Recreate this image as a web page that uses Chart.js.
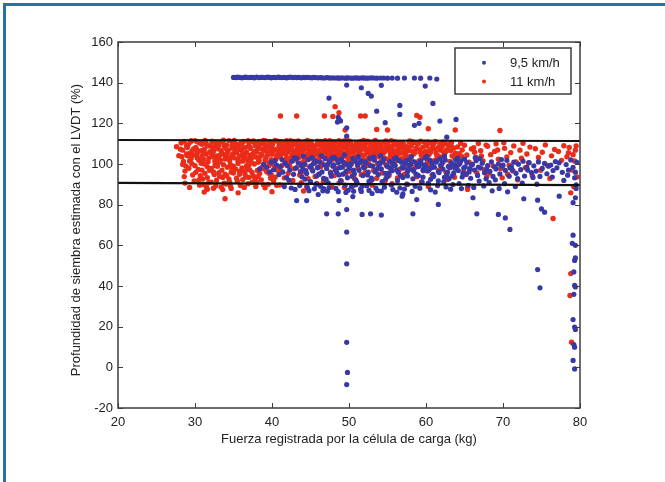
<!DOCTYPE html>
<html>
<head>
<meta charset="utf-8">
<script src="https://cdn.jsdelivr.net/npm/chart.js@4/dist/chart.umd.min.js"></script>
<style>
  html, body { margin: 0; padding: 0; background: #ffffff; }
  #wrap { position: relative; width: 665px; height: 482px; overflow: hidden; background: #fff; }
  #frame { position: absolute; left: 3px; top: 3px; width: 700px; height: 500px;
           border-left: 3px solid #2173a8; border-top: 3px solid #2173a8; box-sizing: border-box; }
  canvas { position: absolute; left: 0; top: 0; }
</style>
</head>
<body>
<div id="wrap">
  <div id="frame"></div>
  <canvas id="c" width="665" height="482"></canvas>
</div>
<script>
// ---------------- data ----------------
const seriesNames = ['9,5 km/h', '11 km/h'];
const xTickValues = [20, 30, 40, 50, 60, 70, 80];
const yTickValues = [-20, 0, 20, 40, 60, 80, 100, 120, 140, 160];
const xTitle = 'Fuerza registrada por la célula de carga (kg)';
const yTitle = 'Profundidad de siembra estimada con el LVDT (%)';

const limitUpper = [[20, 111.8], [80, 111.3]];
const limitLower = [[20, 90.7], [80, 89.6]];

// 9,5 km/h : saturated readings near 142 %
const blueCeiling = [
[35.0,142.6],[35.3,142.5],[35.5,142.7],[35.8,142.6],[36.1,142.4],[36.4,142.6],[36.6,142.7],[36.9,142.5],
[37.2,142.6],[37.5,142.6],[37.7,142.4],[38.0,142.7],[38.3,142.5],[38.6,142.6],[38.8,142.6],[39.1,142.5],
[39.4,142.7],[39.7,142.6],[39.9,142.4],[40.2,142.6],[40.5,142.5],[40.8,142.7],[41.0,142.6],[41.3,142.5],
[41.6,142.6],[41.9,142.4],[42.1,142.6],[42.4,142.7],[42.7,142.5],[43.0,142.6],[43.2,142.5],[43.5,142.6],
[43.8,142.4],[44.1,142.6],[44.3,142.5],[44.6,142.6],[44.9,142.5],[45.2,142.4],[45.4,142.6],[45.7,142.5],
[46.0,142.4],[46.3,142.5],[46.5,142.4],[46.8,142.3],[47.1,142.5],[47.4,142.4],[47.6,142.3],[47.9,142.4],
[48.2,142.3],[48.5,142.4],[48.7,142.2],[49.0,142.4],[49.3,142.3],[49.6,142.2],[49.8,142.4],[50.1,142.3],
[50.4,142.2],[50.7,142.3],[50.9,142.4],[51.2,142.2],[51.5,142.3],[51.8,142.4],[52.0,142.3],[52.3,142.2],
[52.6,142.3],[52.9,142.4],[53.2,142.3],[53.6,142.2],[54.1,142.3],[54.5,142.3],[55.0,142.2],[55.6,142.3],
[56.3,142.2],[57.2,142.3],[58.5,142.3],[59.3,142.2],[60.5,142.3],[61.4,141.8]
];

// 9,5 km/h : main cloud
const blueBand = [
[38.4,97.6],[38.9,99.8],[39.3,98.4],[39.7,96.1],[39.9,100.9],
[40.2,97.2],[40.6,99.5],[40.9,94.8],[40.4,101.7],
[41.1,98.7],[41.4,96.0],[41.7,100.4],[41.9,93.3],[41.3,102.2],[41.6,88.9],
[42.0,99.1],[42.3,97.0],[42.6,101.3],[42.8,94.9],[42.2,92.0],[42.5,88.2],[42.9,103.0],
[43.1,98.0],[43.4,100.6],[43.7,96.3],[43.9,93.7],[43.2,102.8],[43.6,89.4],[43.0,87.5],[43.8,99.3],
[44.0,97.5],[44.2,100.0],[44.5,95.3],[44.7,102.1],[44.9,98.6],[44.3,92.6],[44.6,88.5],[44.8,86.9],[44.1,103.9],[44.4,96.8],
[45.1,99.2],[45.3,96.6],[45.6,101.4],[45.8,94.1],[45.0,91.3],[45.5,87.8],[45.9,98.1],[45.2,103.2],[45.7,89.9],[45.4,100.3],
[46.0,98.4],[46.2,100.9],[46.5,96.1],[46.7,93.0],[46.9,102.6],[46.3,89.0],[46.6,86.8],[46.1,95.0],[46.8,99.5],[46.4,104.0],[46.7,87.9],
[47.1,97.8],[47.3,100.2],[47.6,95.5],[47.8,102.9],[47.0,92.4],[47.4,88.3],[47.9,98.9],[47.2,86.6],[47.7,94.0],[47.5,101.5],[47.3,90.7],
[48.0,99.6],[48.2,97.1],[48.5,101.8],[48.7,94.6],[48.9,91.8],[48.3,88.0],[48.6,86.4],[48.1,103.3],[48.8,98.2],[48.4,96.0],[48.6,100.6],
[49.1,98.5],[49.3,100.8],[49.6,96.4],[49.8,93.2],[49.0,102.4],[49.5,89.6],[49.9,87.1],[49.2,95.0],[49.7,99.7],[49.4,104.5],[49.6,86.0],
[50.0,97.9],[50.2,100.1],[50.5,102.7],[50.7,95.2],[50.9,92.1],[50.3,88.7],[50.6,86.6],[50.1,99.0],[50.8,101.3],[50.4,94.0],[50.6,97.0],[50.9,89.8],
[51.1,99.4],[51.3,96.9],[51.6,101.6],[51.8,94.3],[51.0,91.0],[51.5,87.6],[51.9,98.3],[51.2,103.6],[51.7,89.0],[51.4,100.7],[51.6,86.5],
[52.0,98.1],[52.2,100.5],[52.5,96.0],[52.7,102.8],[52.9,93.1],[52.3,89.3],[52.6,87.0],[52.1,101.0],[52.8,99.2],[52.4,94.6],[52.6,91.5],
[53.1,99.0],[53.3,101.9],[53.6,97.3],[53.8,94.8],[53.0,92.2],[53.5,88.1],[53.9,100.4],[53.2,103.4],[53.7,86.9],[53.4,96.1],[53.8,98.0],
[54.0,100.0],[54.2,97.6],[54.5,102.3],[54.7,95.4],[54.9,99.0],[54.3,91.4],[54.6,88.6],[54.1,104.1],[54.8,93.0],[54.4,101.0],[54.2,86.7],
[55.1,98.6],[55.3,101.2],[55.6,96.7],[55.8,99.9],[55.0,93.8],[55.5,89.7],[55.9,102.6],[55.2,95.6],[55.7,87.4],[55.4,97.9],[55.6,100.6],
[56.0,99.3],[56.2,97.0],[56.5,101.7],[56.7,94.3],[56.9,98.4],[56.3,91.8],[56.6,88.2],[56.1,103.0],[56.8,100.8],[56.4,95.9],[56.2,86.1],
[57.1,98.0],[57.3,100.3],[57.6,96.2],[57.8,102.1],[57.0,93.4],[57.5,90.1],[57.9,99.5],[57.2,87.7],[57.7,97.4],[57.4,101.5],[57.6,94.1],
[58.0,99.8],[58.2,97.3],[58.5,101.0],[58.7,95.0],[58.9,98.7],[58.3,92.7],[58.6,89.0],[58.1,103.5],[58.8,100.2],[58.4,96.5],[58.2,86.5],
[59.1,98.9],[59.3,101.4],[59.6,96.9],[59.8,99.6],[59.0,94.4],[59.5,91.1],[59.9,102.9],[59.2,88.1],[59.7,97.6],[59.4,100.0],[59.6,93.5],
[60.0,99.0],[60.2,96.6],[60.5,101.9],[60.7,98.1],[60.9,94.9],[60.3,90.6],[60.6,87.3],[60.1,103.7],[60.8,100.5],[60.4,97.2],[60.6,92.5],
[61.1,98.4],[61.3,100.9],[61.6,96.3],[61.8,102.5],[61.0,93.9],[61.5,89.4],[61.9,99.3],[61.2,86.2],[61.7,95.8],[61.4,101.6],[61.6,91.7],
[62.0,99.6],[62.2,97.5],[62.5,102.0],[62.7,94.7],[62.9,98.8],[62.3,91.2],[62.6,88.7],[62.1,100.7],[62.8,96.0],[62.4,103.9],[62.4,93.4],
[63.1,98.2],[63.3,100.6],[63.6,95.6],[63.8,97.9],[63.0,92.8],[63.5,89.9],[63.9,101.8],[63.2,87.6],[63.7,99.4],[63.4,94.2],
[64.0,99.1],[64.2,96.8],[64.5,101.3],[64.7,93.6],[64.9,98.0],[64.3,90.4],[64.6,87.9],[64.1,102.9],[64.8,95.3],[64.4,100.2],
[65.1,98.6],[65.3,100.8],[65.6,96.1],[65.8,93.0],[65.0,102.4],[65.5,89.5],[65.9,99.5],[65.2,95.0],[65.7,97.7],
[66.0,99.8],[66.3,97.0],[66.5,101.6],[66.7,94.4],[66.9,91.6],[66.2,88.5],[66.8,98.5],[66.4,103.1],
[67.1,98.0],[67.3,100.4],[67.6,95.7],[67.8,92.7],[67.0,102.6],[67.5,89.2],[67.9,97.1],
[68.0,99.2],[68.3,96.4],[68.5,101.1],[68.7,93.9],[68.9,98.6],[68.2,90.9],[68.6,86.8],
[69.1,97.6],[69.4,100.0],[69.6,95.1],[69.8,102.2],[69.0,92.2],[69.5,88.0],[69.9,98.9],
[70.0,99.4],[70.3,96.9],[70.5,101.8],[70.8,94.0],[70.2,90.3],[70.6,86.3],[70.9,98.2],
[71.1,98.7],[71.4,100.9],[71.7,95.4],[71.9,92.8],[71.2,97.0],[71.6,88.9],
[72.0,99.9],[72.3,97.2],[72.6,101.4],[72.8,94.1],[72.5,90.6],
[73.1,98.3],[73.4,100.7],[73.7,95.8],[73.9,93.4],[73.2,97.0],
[74.0,99.1],[74.3,96.5],[74.6,101.0],[74.8,93.9],[74.4,90.1],
[75.1,97.8],[75.4,100.3],[75.7,95.2],[75.9,98.9],
[76.2,99.5],[76.5,96.8],[76.8,101.2],[76.4,93.6],
[77.0,98.1],[77.3,100.6],[77.7,95.9],[77.9,91.9],
[78.2,99.7],[78.5,97.0],[78.8,102.0],[78.4,94.5],
[79.1,98.4],[79.4,96.0],[79.6,100.8],[79.3,93.2],[79.5,89.8]
];

// 9,5 km/h : scattered readings
const blueOutliers = [
[49.7,138.8],[51.6,137.5],[52.5,134.7],[52.9,133.4],[54.2,138.7],[59.9,138.3],[60.9,129.8],[47.4,132.4],
[53.6,126.0],[56.6,128.8],[56.6,124.4],[54.7,120.3],[58.5,119.0],[59.1,120.0],[61.8,121.1],[63.9,121.9],
[48.5,120.6],[48.7,122.0],[48.9,121.2],[48.6,123.0],[49.7,117.8],[49.7,113.7],[62.7,113.2],
[46.0,85.0],[50.5,84.0],[53.0,85.5],[57.0,85.3],[58.8,82.5],[56.9,84.2],
[43.2,82.0],[44.5,82.0],[48.7,82.0],[47.1,75.5],[48.6,75.5],[49.7,77.6],[51.7,75.2],[52.8,75.5],
[54.2,74.9],[58.3,75.5],[61.6,80.1],[66.6,75.5],[66.1,83.4],[69.4,75.2],[70.3,73.5],[70.9,67.8],
[72.7,82.9],[74.5,82.2],[75.0,77.9],[75.4,76.3],[77.3,84.2],[74.5,48.1],[74.8,39.1],
[49.7,66.5],[49.7,50.9],[49.7,12.3],[49.8,-2.5],[49.7,-8.5],
[79.1,65.0],[79.0,61.0],[79.4,60.0],[79.3,52.6],[79.4,53.8],[79.2,46.9],[79.3,40.3],[79.4,39.5],
[79.2,35.9],[79.1,23.5],[79.4,18.6],[79.3,19.8],[79.2,11.2],[79.3,9.9],[79.1,3.4],[79.3,-0.8],
[79.4,83.4],[79.1,81.0],[79.5,88.0]
];

// 11 km/h : main cloud
const redBand = [
[27.6,108.5],[27.9,104.1],
[28.2,110.3],[28.4,106.8],[28.5,101.2],[28.7,96.5],[28.9,108.9],[28.3,103.6],[28.8,99.0],[28.6,93.8],
[29.1,109.5],[29.3,105.2],[29.5,102.7],[29.2,97.9],[29.7,94.6],[29.8,107.4],[29.4,110.8],[29.6,100.1],[29.9,91.7],[29.0,104.0],
[30.1,108.2],[30.3,111.0],[30.2,104.6],[30.5,101.9],[30.4,97.3],[30.7,94.2],[30.6,89.6],[30.8,106.5],[30.9,109.7],[30.0,99.2],[30.5,92.1],[30.3,103.0],[30.8,100.4],
[31.0,110.2],[31.2,107.1],[31.4,104.9],[31.1,102.3],[31.6,98.7],[31.3,95.4],[31.8,91.0],[31.5,88.7],[31.7,108.8],[31.9,105.8],[31.2,100.0],[31.6,93.3],[31.4,110.9],[31.9,96.9],[31.1,89.9],
[32.0,109.0],[32.2,111.2],[32.4,106.3],[32.3,103.7],[32.6,101.0],[32.1,97.8],[32.5,94.8],[32.8,92.0],[32.7,89.3],[32.9,108.1],[32.2,104.9],[32.6,99.2],[32.4,96.1],[32.9,102.5],[32.1,91.1],[32.7,110.1],
[33.0,107.5],[33.2,110.6],[33.5,105.2],[33.3,102.0],[33.7,99.6],[33.1,95.7],[33.6,93.4],[33.4,88.6],[33.8,108.7],[33.9,104.4],[33.2,100.9],[33.5,97.0],[33.8,90.5],[33.0,103.3],[33.6,111.0],[33.9,95.0],
[34.1,109.3],[34.3,106.7],[34.0,104.0],[34.5,101.6],[34.2,98.4],[34.7,96.0],[34.4,92.7],[34.6,89.1],[34.9,110.5],[34.8,107.9],[34.3,102.8],[34.6,99.7],[34.1,94.4],[34.9,105.0],[34.5,91.2],[34.7,88.0],
[35.0,110.9],[35.2,108.0],[35.4,105.6],[35.1,103.1],[35.6,100.3],[35.3,97.5],[35.8,94.9],[35.5,91.6],[35.9,89.4],[35.7,109.4],[35.2,106.1],[35.6,102.2],[35.0,98.9],[35.8,96.3],[35.4,93.0],[35.9,107.3],
[36.1,109.8],[36.3,111.1],[36.0,106.9],[36.5,104.5],[36.2,101.4],[36.7,99.0],[36.4,96.6],[36.6,93.6],[36.9,90.3],[36.8,108.4],[36.3,103.4],[36.1,98.0],[36.7,105.7],[36.5,95.1],[36.9,100.6],[36.2,92.3],
[37.0,110.4],[37.2,107.6],[37.5,105.0],[37.3,102.6],[37.7,100.0],[37.1,97.2],[37.6,94.0],[37.4,90.9],[37.9,88.9],[37.8,109.1],[37.2,104.2],[37.6,111.3],[37.0,99.5],[37.9,106.4],[37.4,95.8],[37.8,92.6],
[38.1,108.6],[38.3,110.8],[38.0,105.9],[38.5,103.8],[38.2,100.8],[38.7,98.3],[38.4,95.3],[38.6,92.2],[38.9,89.8],[38.8,107.2],[38.3,102.0],[38.1,96.8],[38.7,104.7],[38.5,109.9],[38.9,99.4],[38.2,93.9],
[39.0,109.6],[39.2,106.5],[39.4,104.3],[39.1,101.8],[39.6,99.1],[39.3,96.2],[39.8,93.1],[39.5,90.0],[39.7,111.0],[39.9,107.8],[39.2,103.0],[39.6,100.5],[39.0,97.6],[39.8,105.4],[39.4,108.3],[39.9,94.7],
[40.1,110.1],[40.3,107.3],[40.0,104.8],[40.5,102.4],[40.2,99.8],[40.7,96.9],[40.4,93.5],[40.6,89.5],[40.9,108.8],[40.8,105.7],[40.3,101.2],[40.1,106.2],[40.7,111.2],[40.5,98.1],[40.9,103.6],[40.2,91.8],
[41.0,109.2],[41.2,111.0],[41.4,106.8],[41.1,104.1],[41.6,101.7],[41.3,99.3],[41.8,108.0],[41.5,105.3],[41.9,102.9],[41.7,110.4],[41.2,96.5],[41.6,93.2],[41.0,89.7],[41.8,100.2],[41.4,107.6],
[42.1,110.7],[42.3,108.4],[42.0,105.8],[42.5,103.4],[42.2,101.0],[42.7,109.6],[42.4,106.9],[42.6,104.6],[42.9,102.1],[42.8,111.1],[42.3,99.0],[42.1,95.4],[42.7,91.9],[42.5,107.8],[42.9,97.7],
[43.0,109.9],[43.2,107.0],[43.4,104.9],[43.1,102.5],[43.6,110.8],[43.3,108.6],[43.8,106.0],[43.5,103.2],[43.9,100.6],[43.7,108.1],[43.2,98.2],[43.6,94.6],[43.0,105.4],[43.8,90.8],[43.4,111.3],
[44.1,108.9],[44.3,111.0],[44.0,106.4],[44.5,104.2],[44.2,101.6],[44.7,109.7],[44.4,107.4],[44.6,105.0],[44.9,102.8],[44.8,110.3],[44.3,99.6],[44.1,96.2],[44.7,92.8],[44.5,88.9],[44.9,106.7],
[45.0,110.2],[45.2,107.9],[45.4,105.6],[45.1,103.0],[45.6,100.5],[45.3,109.1],[45.8,106.9],[45.5,104.3],[45.9,111.2],[45.7,101.9],[45.2,97.3],[45.6,93.9],[45.0,108.5],[45.8,90.4],[45.4,102.3],
[46.1,109.4],[46.3,111.1],[46.0,106.1],[46.5,103.8],[46.2,101.3],[46.7,108.7],[46.4,105.4],[46.6,110.0],[46.9,103.1],[46.8,107.1],[46.3,98.7],[46.1,95.0],[46.7,91.4],[46.5,100.4],[46.9,104.8],
[47.0,110.6],[47.2,108.2],[47.4,105.9],[47.1,103.6],[47.6,109.5],[47.3,107.0],[47.8,104.4],[47.5,101.1],[47.9,111.0],[47.7,106.3],[47.2,99.4],[47.6,96.0],[47.0,92.5],[47.8,88.7],[47.4,102.6],
[48.1,109.0],[48.3,110.9],[48.0,107.6],[48.5,105.1],[48.2,102.7],[48.7,108.8],[48.4,106.2],[48.6,103.9],[48.9,110.2],[48.8,101.2],[48.3,97.9],[48.1,94.3],[48.7,90.6],[48.5,107.3],[48.9,104.7],
[49.0,110.4],[49.2,107.8],[49.4,105.3],[49.1,102.9],[49.6,109.2],[49.3,111.2],[49.8,106.6],[49.5,104.0],[49.9,101.6],[49.7,108.3],[49.2,98.6],[49.6,95.2],[49.0,91.7],[49.8,103.4],[49.4,88.4],
[50.1,109.7],[50.3,107.2],[50.0,104.6],[50.5,102.0],[50.2,110.8],[50.7,108.5],[50.4,105.8],[50.6,103.3],[50.9,110.1],[50.8,106.9],[50.3,99.9],[50.1,96.4],[50.7,92.9],[50.5,89.2],[50.9,101.5],
[51.0,110.5],[51.2,108.0],[51.4,105.5],[51.1,103.0],[51.6,109.3],[51.3,106.7],[51.8,104.2],[51.5,111.0],[51.9,107.5],[51.7,101.8],[51.2,98.0],[51.6,94.7],[51.0,90.9],[51.8,100.3],
[52.1,109.6],[52.3,107.0],[52.0,104.4],[52.5,110.7],[52.2,101.9],[52.7,108.2],[52.4,105.6],[52.6,103.1],[52.9,109.9],[52.8,106.4],[52.3,99.1],[52.1,95.8],[52.7,91.5],[52.5,100.6],
[53.0,110.3],[53.2,107.7],[53.4,105.2],[53.1,102.4],[53.6,108.9],[53.3,106.0],[53.8,103.6],[53.5,110.9],[53.9,104.9],[53.7,100.1],[53.2,96.8],[53.6,93.0],[53.0,89.6],
[54.1,109.1],[54.3,106.6],[54.0,104.0],[54.5,110.6],[54.2,101.4],[54.7,108.0],[54.4,105.3],[54.6,103.0],[54.9,107.2],[54.8,99.7],[54.3,95.6],[54.7,91.8],
[55.0,110.0],[55.2,107.5],[55.4,104.7],[55.1,102.2],[55.6,108.6],[55.3,106.2],[55.8,110.8],[55.5,103.8],[55.9,105.9],[55.7,98.9],[55.2,94.4],[55.6,90.3],
[56.1,109.3],[56.3,106.9],[56.0,104.3],[56.5,110.4],[56.2,101.7],[56.7,107.9],[56.4,105.0],[56.8,102.6],[56.9,109.6],[56.6,97.4],[56.3,93.1],
[57.0,110.2],[57.2,107.3],[57.4,104.6],[57.1,102.0],[57.6,108.5],[57.3,105.7],[57.8,110.9],[57.5,103.3],[57.9,106.6],[57.7,99.2],[57.2,95.0],[57.6,89.9],
[58.1,108.8],[58.3,106.2],[58.0,103.7],[58.5,110.5],[58.2,101.3],[58.7,107.6],[58.4,104.9],[58.9,109.7],[58.6,98.4],[58.8,93.7],
[59.0,109.9],[59.2,107.0],[59.4,104.3],[59.1,101.6],[59.6,108.3],[59.3,105.6],[59.8,110.7],[59.5,102.8],[59.9,106.1],[59.7,96.7],[59.4,91.2],
[60.1,108.9],[60.3,106.4],[60.0,103.9],[60.5,110.3],[60.2,101.1],[60.7,107.5],[60.4,104.7],[60.9,109.4],[60.6,99.3],[60.8,94.6],[60.3,88.9],
[61.0,110.1],[61.2,107.2],[61.4,104.2],[61.1,101.8],[61.6,108.1],[61.3,105.4],[61.8,109.8],[61.5,102.6],[61.9,106.8],[61.7,97.1],
[62.1,108.6],[62.3,105.9],[62.0,103.3],[62.5,110.0],[62.2,100.8],[62.7,107.0],[62.4,104.5],[62.9,109.2],[62.6,95.9],[62.8,92.4],
[63.0,109.6],[63.2,106.6],[63.4,104.0],[63.1,101.3],[63.6,107.8],[63.3,110.6],[63.8,105.3],[63.5,98.6],[63.9,102.4],[63.7,93.5],
[64.1,108.4],[64.3,105.1],[64.0,102.7],[64.5,110.2],[64.2,99.5],[64.7,106.9],[64.9,96.2],[64.6,103.8],
[65.0,109.2],[65.3,104.4],[65.6,100.9],[65.9,107.4],[65.2,94.8],[65.7,97.6],[65.4,88.4],
[66.2,108.0],[66.5,103.2],[66.8,110.1],[66.0,99.8],[66.6,95.7],[66.3,105.8],
[67.1,106.5],[67.4,101.5],[67.8,109.3],[67.6,97.3],[67.2,103.9],[67.9,93.8],
[68.0,108.7],[68.4,104.6],[68.7,99.1],[68.9,106.2],[68.2,95.5],
[69.1,109.9],[69.4,102.3],[69.7,97.8],[69.3,106.9],[69.9,93.2],
[70.2,107.7],[70.5,103.5],[70.8,99.4],[70.1,110.4],[70.6,95.0],
[71.0,105.6],[71.4,108.9],[71.7,101.0],[71.3,96.6],[71.9,92.2],
[72.2,106.8],[72.6,110.2],[72.4,102.8],[72.9,98.2],
[73.1,104.9],[73.5,108.3],[73.8,94.4],[73.3,100.5],
[74.2,107.5],[74.6,103.2],[74.9,96.9],
[75.1,105.8],[75.5,109.4],[75.8,99.3],
[76.3,104.0],[76.7,107.1],[76.1,92.9],
[77.2,106.2],[77.6,101.8],[77.9,109.0],
[78.3,103.6],[78.6,108.1],[78.9,97.0],[78.5,105.5],
[79.1,104.6],[79.4,106.8],[79.3,101.5],[79.6,93.6],[79.2,88.8],[79.5,108.9]
];

// 11 km/h : densest upper strip of the cloud
const redTop = [
[28.1,107.3],[28.6,111.1],[28.9,105.0],[28.4,99.8],[29.0,108.1],[29.5,111.4],[29.8,104.4],[29.3,101.5],[29.6,106.3],
[30.2,107.0],[30.6,110.3],[30.9,103.8],[30.4,105.9],[30.0,111.5],[31.1,106.0],[31.5,109.6],[31.8,103.0],[31.3,111.6],[31.7,101.1],
[32.0,106.1],[32.5,110.8],[32.8,104.0],[32.3,108.2],[32.6,102.0],[33.1,109.3],[33.4,106.5],[33.7,111.7],[33.9,102.4],[33.3,104.5],
[34.0,107.6],[34.4,111.5],[34.7,103.5],[34.2,105.4],[34.8,109.2],[35.1,111.6],[35.5,107.0],[35.8,104.0],[35.3,109.8],[35.6,101.4],
[36.0,110.5],[36.4,107.9],[36.7,102.6],[36.2,105.1],[36.9,111.5],[37.1,108.4],[37.4,111.0],[37.7,106.0],[37.9,103.4],[37.3,100.8],
[38.0,110.2],[38.4,107.7],[38.6,105.0],[38.9,111.6],[38.3,101.4],[39.1,111.5],[39.4,109.0],[39.7,105.6],[39.2,107.2],[39.9,102.1],
[40.0,109.4],[40.4,111.6],[40.6,104.2],[40.8,107.0],[40.3,100.4],[41.1,110.4],[41.5,108.6],[41.8,104.8],[41.3,106.4],[41.9,111.5],
[42.0,109.0],[42.4,111.5],[42.6,107.1],[42.9,104.9],[42.2,102.6],[43.1,111.0],[43.5,109.3],[43.8,103.9],[43.3,106.8],[43.9,108.9],
[44.0,110.0],[44.4,108.3],[44.6,111.6],[44.9,104.5],[44.2,103.0],[45.1,111.1],[45.5,108.8],[45.8,104.6],[45.3,106.2],[45.9,109.6],
[46.0,110.6],[46.4,108.0],[46.7,105.6],[46.9,111.4],[46.2,103.4],[47.1,109.2],[47.5,111.5],[47.8,107.6],[47.3,104.9],[47.9,102.3],
[48.0,110.5],[48.4,108.0],[48.7,111.4],[48.9,106.0],[48.2,104.5],[49.1,109.5],[49.5,111.4],[49.8,107.2],[49.3,104.3],[49.9,110.6],
[50.0,111.3],[50.4,108.9],[50.7,106.3],[50.9,104.0],[50.2,102.3],[51.1,109.1],[51.5,106.9],[51.8,110.3],[51.3,104.5],[51.9,111.6],
[52.0,108.6],[52.4,111.2],[52.8,105.0],[52.2,106.9],[52.6,102.5],[53.1,109.5],[53.4,111.6],[53.7,106.6],[53.9,108.2],[53.3,103.8],
[54.0,110.1],[54.4,107.8],[54.8,111.3],[54.2,104.6],[54.6,105.9],[55.1,108.9],[55.5,111.4],[55.8,106.5],[55.3,102.9],
[56.0,110.8],[56.5,108.1],[56.8,105.4],[56.2,103.3],[57.1,109.6],[57.5,106.6],[57.9,111.3],[57.3,103.9],
[58.2,111.0],[58.6,105.7],[59.3,111.2],[59.7,104.9],[60.2,110.9],[60.6,105.9],[61.2,111.1],[61.6,104.0],
[62.2,110.8],[62.6,106.2],[63.3,108.6],[63.7,103.1],
[28.7,90.6],[29.3,88.5],[30.1,95.9],[31.0,92.6],[32.4,88.1],[33.2,93.9],[34.0,90.2],[35.0,95.6],[36.4,88.5],
[37.0,93.4],[38.0,91.0],[39.1,88.3],[39.6,95.4],[40.0,92.9],[36.8,97.3],[34.8,97.6],[32.9,98.9],[30.9,97.0],
[31.6,87.6],[33.6,87.4]
];

// 11 km/h : scattered readings
const redOutliers = [
[41.1,123.6],[43.2,123.6],[46.8,123.6],[47.9,123.4],[51.5,123.6],[52.1,123.6],[48.2,128.2],[48.7,125.2],
[49.5,116.7],[53.6,117.0],[55.0,116.7],[58.8,123.9],[59.2,123.0],[60.3,117.3],[63.8,116.7],[69.6,116.5],
[31.2,86.2],[33.9,82.9],[35.6,85.8],[40.0,86.4],[44.1,86.7],[65.4,87.5],[76.5,73.2],[78.8,85.8],
[78.8,46.1],[78.7,35.3],[78.9,12.3]
];

// ---------------- chart ----------------
const toXY = arr => arr.map(p => ({ x: p[0], y: p[1] }));
const BLUE = '#3838a6';
const RED = '#ea2c18';
const BOX = { left: 118, top: 42, right: 580, bottom: 408 };
const FONT = '"Liberation Sans", Arial, sans-serif';

const matlabFrame = {
  id: 'matlabFrame',
  afterDatasetsDraw(chart) {
    const { ctx, chartArea: a, scales } = chart;
    ctx.save();
    ctx.strokeStyle = '#3c3c3c';
    ctx.lineWidth = 1.5;
    ctx.strokeRect(a.left, a.top, a.right - a.left, a.bottom - a.top);
    ctx.lineWidth = 1;
    ctx.beginPath();
    xTickValues.forEach(v => {
      const px = Math.round(scales.x.getPixelForValue(v)) + 0.5;
      ctx.moveTo(px, a.bottom); ctx.lineTo(px, a.bottom - 5);
      ctx.moveTo(px, a.top); ctx.lineTo(px, a.top + 5);
    });
    yTickValues.forEach(v => {
      const py = Math.round(scales.y.getPixelForValue(v)) + 0.5;
      ctx.moveTo(a.left, py); ctx.lineTo(a.left + 5, py);
      ctx.moveTo(a.right, py); ctx.lineTo(a.right - 5, py);
    });
    ctx.stroke();

    // legend
    const lx = 455, ly = 48, lw = 116, lh = 46;
    ctx.fillStyle = '#ffffff';
    ctx.fillRect(lx, ly, lw, lh);
    ctx.strokeStyle = '#3c3c3c';
    ctx.lineWidth = 1.5;
    ctx.strokeRect(lx, ly, lw, lh);
    const rows = [62.7, 81.5];
    const cols = [BLUE, RED];
    ctx.font = '13px ' + FONT;
    ctx.textBaseline = 'middle';
    ctx.textAlign = 'left';
    seriesNames.forEach((name, i) => {
      ctx.fillStyle = cols[i];
      ctx.beginPath();
      ctx.arc(484, rows[i], 2, 0, Math.PI * 2);
      ctx.fill();
      ctx.fillStyle = '#222222';
      ctx.fillText(name, 510, rows[i] + 0.5);
    });

    // axis titles
    ctx.fillStyle = '#222222';
    ctx.font = '13px ' + FONT;
    ctx.textAlign = 'center';
    ctx.textBaseline = 'middle';
    ctx.fillText(xTitle, (a.left + a.right) / 2, 439);
    ctx.translate(76, 230);
    ctx.rotate(-Math.PI / 2);
    ctx.fillText(yTitle, 0, 0);
    ctx.restore();
  }
};

new Chart(document.getElementById('c'), {
  type: 'scatter',
  data: {
    datasets: [
      {
        label: seriesNames[0],
        data: toXY(blueCeiling.concat(blueBand, blueOutliers)),
        backgroundColor: BLUE, borderWidth: 0, pointRadius: 2.6, order: 1
      },
      {
        label: seriesNames[1],
        data: toXY(redBand.concat(redTop, redOutliers)),
        backgroundColor: RED, borderWidth: 0, pointRadius: 2.7, order: 2
      },
      {
        label: 'upper', data: toXY(limitUpper), showLine: true, pointRadius: 0,
        borderColor: '#111111', borderWidth: 2.2, order: 0
      },
      {
        label: 'lower', data: toXY(limitLower), showLine: true, pointRadius: 0,
        borderColor: '#111111', borderWidth: 2.2, order: 0
      }
    ]
  },
  options: {
    responsive: false,
    animation: false,
    events: [],
    layout: { padding: { left: 0, top: BOX.top, right: 665 - BOX.right, bottom: 0 } },
    plugins: { legend: { display: false }, tooltip: { enabled: false } },
    scales: {
      x: {
        type: 'linear', min: 20, max: 80,
        afterBuildTicks: s => { s.ticks = xTickValues.map(v => ({ value: v })); },
        afterFit: s => { s.height = 482 - BOX.bottom; },
        grid: { display: false, drawTicks: false, tickLength: 0 }, border: { display: false },
        ticks: { padding: 7, color: '#222222', font: { size: 13, family: FONT }, maxRotation: 0 }
      },
      y: {
        type: 'linear', min: -20, max: 160,
        afterBuildTicks: s => { s.ticks = yTickValues.map(v => ({ value: v })); },
        afterFit: s => { s.width = BOX.left; },
        grid: { display: false, drawTicks: false, tickLength: 0 }, border: { display: false },
        ticks: { padding: 5, color: '#222222', font: { size: 13, family: FONT } }
      }
    }
  },
  plugins: [matlabFrame]
});
</script>
</body>
</html>
